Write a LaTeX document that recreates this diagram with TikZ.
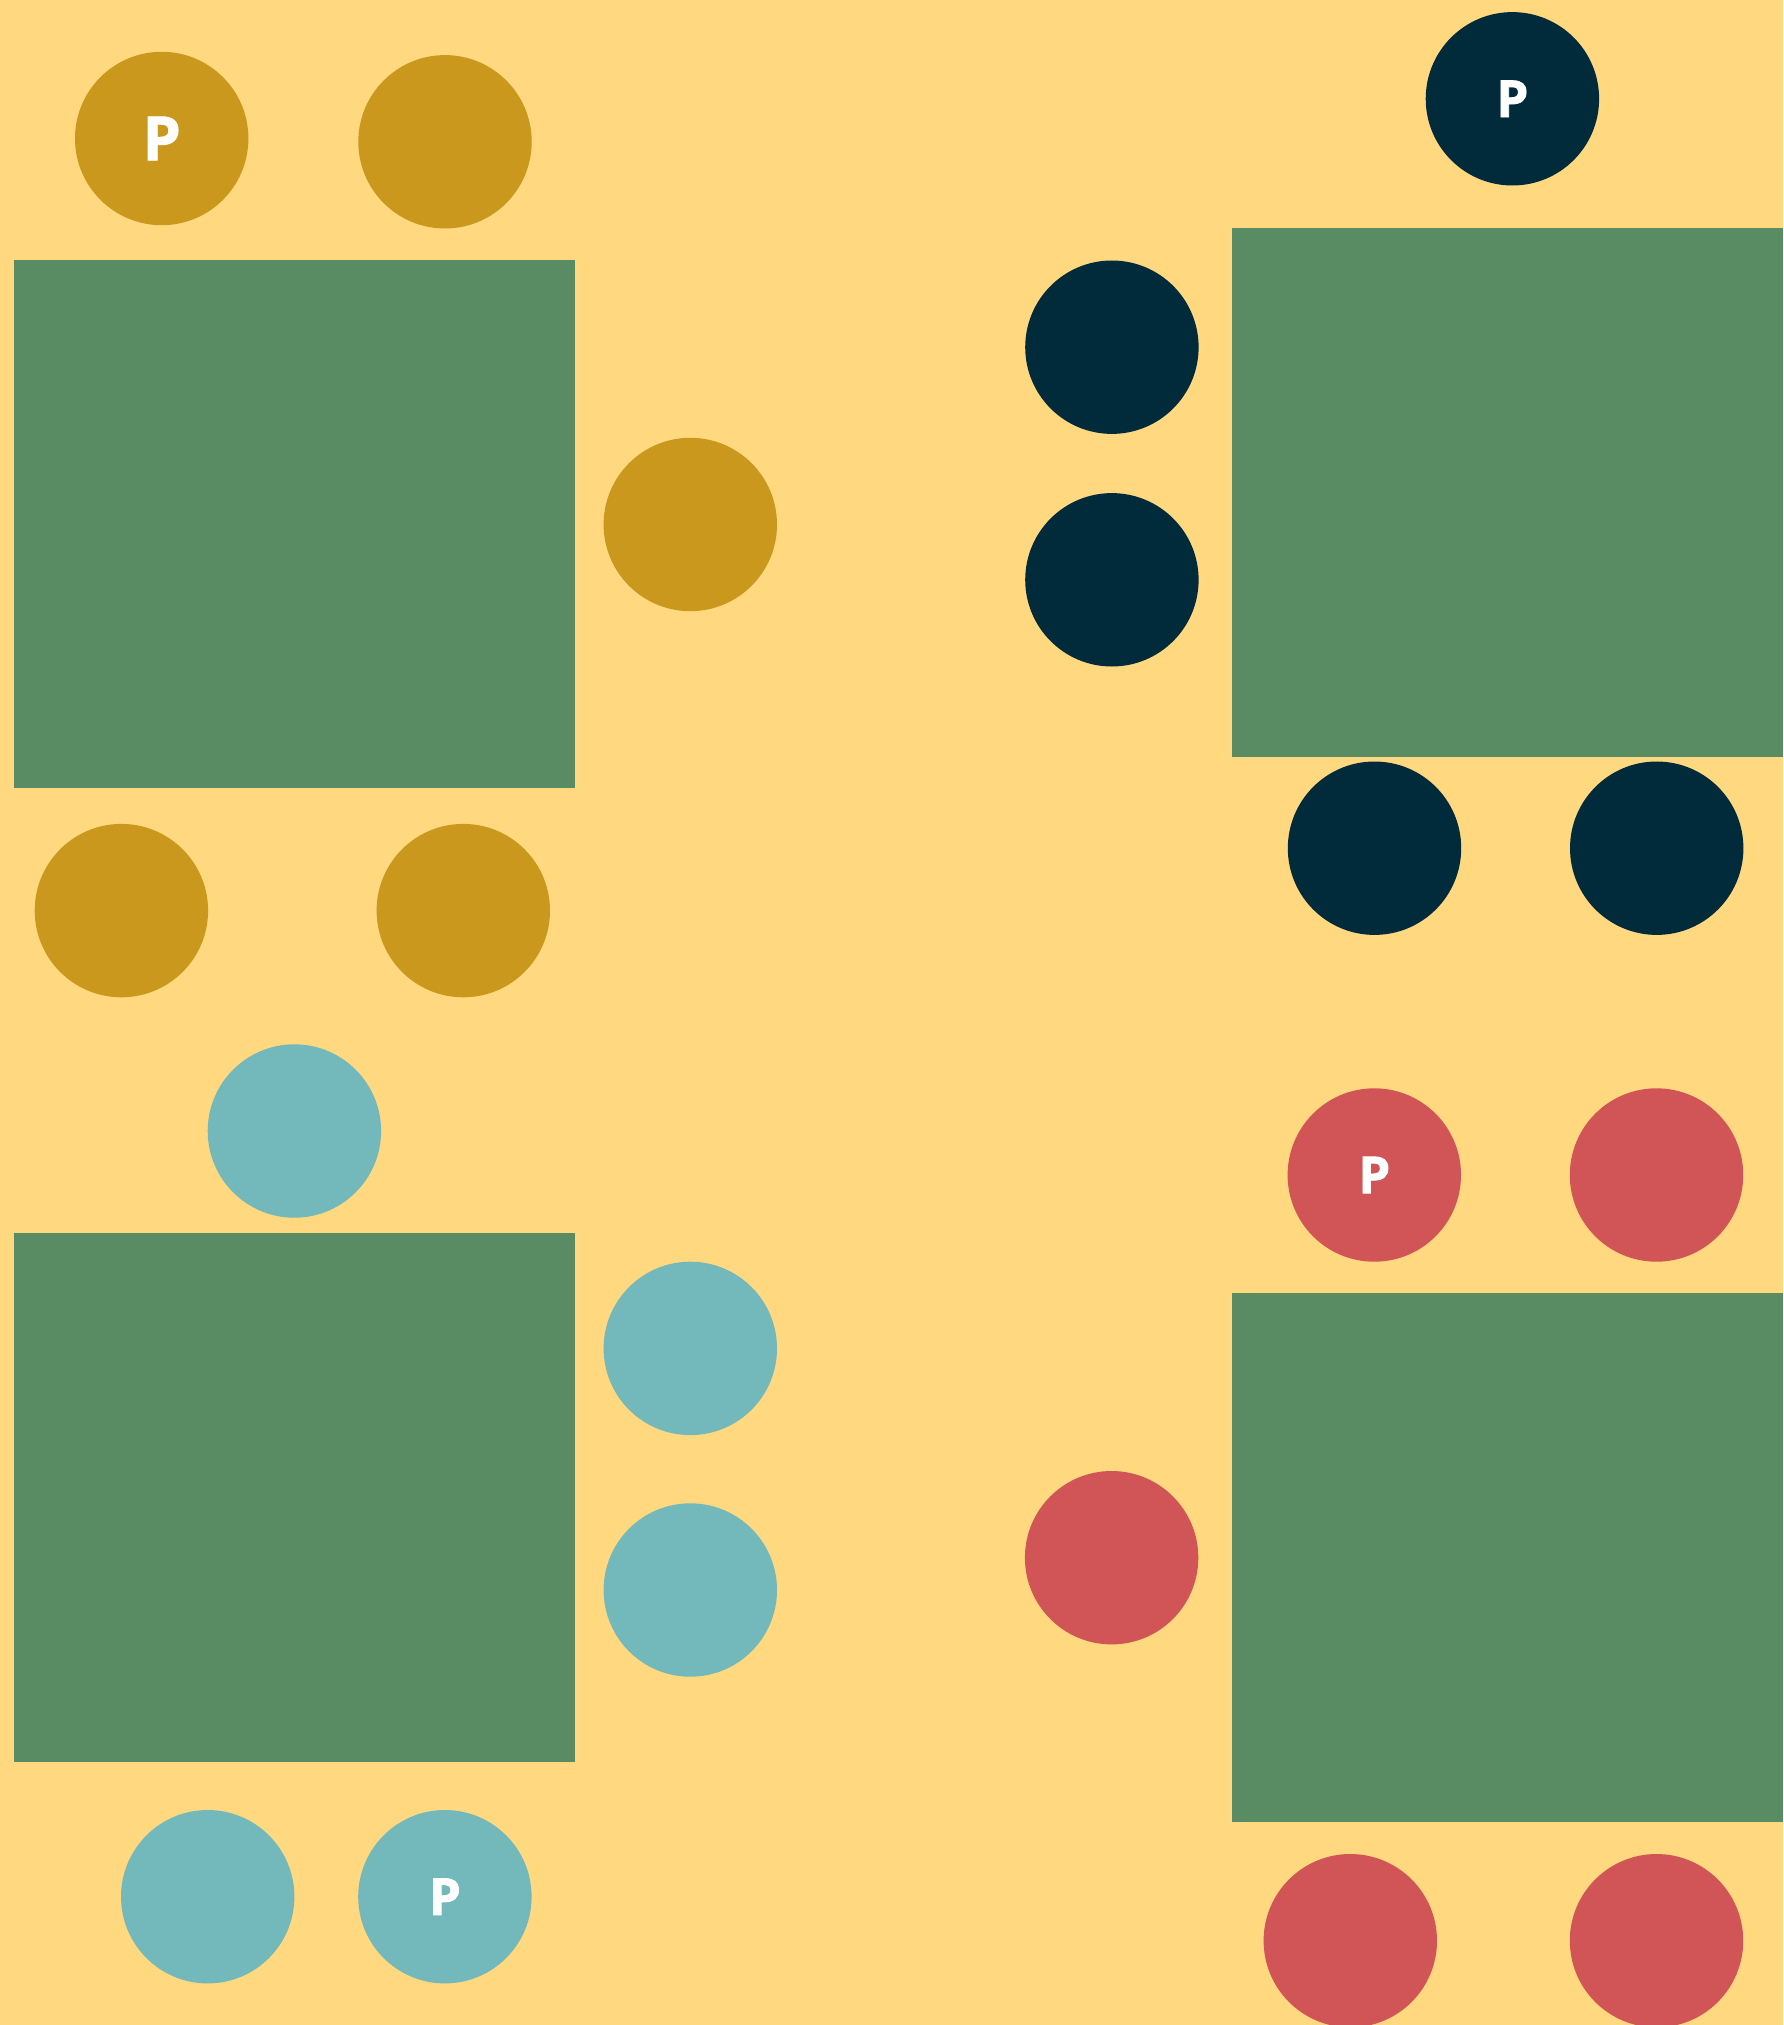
\documentclass[tikz,border=0pt]{standalone}
\usepackage{fontspec}
\setmainfont{Open Sans}
\newfontfamily\heavyp{Open Sans}[BoldFeatures={FakeBold=1.5}]
\definecolor{bgc}{HTML}{FFD880}
\definecolor{tablec}{HTML}{5A8C63}
\definecolor{goldc}{HTML}{C9981D}
\definecolor{navyc}{HTML}{012A3B}
\definecolor{tealc}{HTML}{73B8BB}
\definecolor{redc}{HTML}{D15456}
\begin{document}
\begin{tikzpicture}[x=1pt,y=-1pt,
  seat/.style={circle,inner sep=0pt,minimum size=173.4pt,text=white,font=\heavyp\bfseries\fontsize{51}{51}\selectfont},
  bigp/.style={font=\heavyp\bfseries\fontsize{61}{61}\selectfont},
  tablebox/.style={fill=tablec,draw=none}]
\fill[bgc] (0,0) rectangle (1783,2025);
\useasboundingbox (0,0) rectangle (1783,2025);
% tables
\fill[tablebox] (13.8,260.2) rectangle (575,788) coordinate (t1);
\fill[tablebox] (13.8,1233) rectangle (575,1762) coordinate (t2);
\fill[tablebox] (1232,227.8) rectangle (1783,756.7) coordinate (t3);
\fill[tablebox] (1232,1292.9) rectangle (1783,1821.7) coordinate (t4);
% gold group
\node[seat,bigp,fill=goldc] (g1) at (161.7,138.5) {P};
\node[seat,fill=goldc] (g2) at (445,141.8) {};
\node[seat,fill=goldc] (g3) at (690.3,524.5) {};
\node[seat,fill=goldc] (g4) at (121.4,910.6) {};
\node[seat,fill=goldc] (g5) at (463.3,910.6) {};
% teal group
\node[seat,fill=tealc] (c1) at (294.4,1131) {};
\node[seat,fill=tealc] (c2) at (690.3,1348.4) {};
\node[seat,fill=tealc] (c3) at (690.3,1590) {};
\node[seat,fill=tealc] (c4) at (207.7,1896.7) {};
\node[seat,fill=tealc] (c5) at (444.9,1896.7) {P};
% navy group
\node[seat,fill=navyc] (n1) at (1512.4,98.8) {P};
\node[seat,fill=navyc] (n2) at (1111.9,347.2) {};
\node[seat,fill=navyc] (n3) at (1111.9,579.8) {};
\node[seat,fill=navyc] (n4) at (1374.5,848.2) {};
\node[seat,fill=navyc] (n5) at (1656.7,848.2) {};
% red group
\node[seat,fill=redc] (r1) at (1374.3,1175) {P};
\node[seat,fill=redc] (r2) at (1656.5,1175) {};
\node[seat,fill=redc] (r3) at (1111.6,1557.7) {};
\node[seat,fill=redc] (r4) at (1350.3,1940.7) {};
\node[seat,fill=redc] (r5) at (1656.5,1940.7) {};
\end{tikzpicture}
\end{document}
